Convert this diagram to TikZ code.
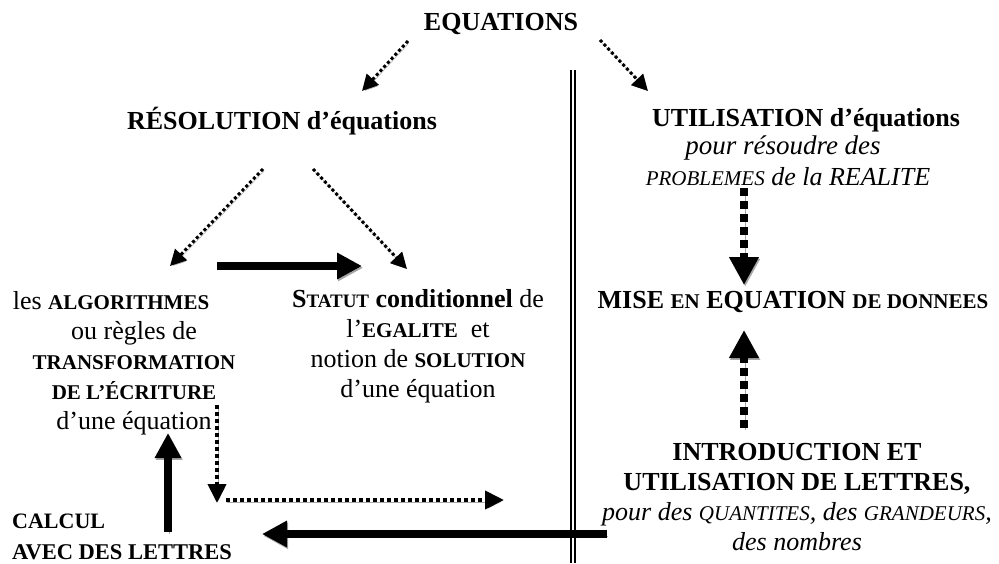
\documentclass[tikz,border=0pt]{standalone}
\usepackage{fontspec}
\setmainfont{Liberation Serif}
\usetikzlibrary{arrows.meta}
\tikzset{
  txt/.style={inner sep=0pt, align=center, font=\fontsize{26}{30}\selectfont},
  shadowed/.style={preaction={draw=black!35, transform canvas={shift={(1.2,1.8)}}}},
  dotarrow/.style={shadowed, line width=3pt, dash pattern=on 3pt off 2.5pt, -{Triangle[length=16pt,width=16pt]}},
  sqarrow/.style={shadowed, line width=4pt, dash pattern=on 4pt off 3pt, -{Triangle[length=19pt,width=18pt]}},
  thickarrow/.style={shadowed, line width=8pt, -{Triangle[length=25pt,width=25pt]}},
  dasharrow/.style={shadowed, line width=8pt, dash pattern=on 8pt off 5pt, -{Triangle[length=28pt,width=28pt]}}
}
\newcommand{\smc}[1]{{\fontsize{21}{24}\selectfont #1}}
\newcommand{\ssmc}[1]{{\fontsize{19}{22}\selectfont #1}}
\begin{document}
\begin{tikzpicture}[x=1pt,y=-1pt]
\useasboundingbox (0,0) rectangle (999,563);
% double vertical line
\draw[line width=1.2pt] (571,70) -- (571,563);
\draw[line width=1.2pt] (575,70) -- (575,563);

\node[txt, font=\fontsize{26}{30}\selectfont\bfseries] (eq) at (501,24) {EQUATIONS};
\node[txt, font=\fontsize{26}{30}\selectfont\bfseries] (res) at (282,121) {RÉSOLUTION d’équations};
\node[txt, font=\fontsize{26}{30}\selectfont\bfseries] (uti) at (806,120) {UTILISATION d’équations};
\node[txt, font=\fontsize{27}{30}\selectfont\itshape] (pour) at (783,148) {pour résoudre des};
\node[txt, font=\fontsize{26}{30}\selectfont\itshape] (prob) at (788,177) {\smc{PROBLEMES} de la REALITE};

\node[txt] (algo) at (134,363) {les \textbf{\smc{ALGORITHMES}}\hspace*{46pt}\\ ou règles de\\ \textbf{\smc{TRANSFORMATION}}\\ \textbf{\smc{DE L’ÉCRITURE}}\\ d’une équation};
\node[txt] (stat) at (418,346) {\textbf{S\ssmc{TATUT} conditionnel} de\\ l’\textbf{\smc{EGALITE}}\ \ et\\ notion de \textbf{\smc{SOLUTION}}\\ d’une équation};
\node[txt] (mise) at (793,302) {\textbf{MISE \smc{EN} EQUATION \smc{DE DONNEES}}};
\node[txt] (intro) at (797,497) {\textbf{INTRODUCTION ET}\\ \textbf{UTILISATION DE LETTRES,}\\ \textit{pour des \smc{QUANTITES}, des \smc{GRANDEURS},}\\ \textit{des nombres}};
\node[txt, anchor=west, font=\fontsize{22}{26}\selectfont\bfseries] (calc) at (12,521) {CALCUL};
\node[txt, anchor=west, font=\fontsize{22.5}{26}\selectfont\bfseries] (avec) at (12,552) {AVEC DES LETTRES};

% coordinates
\coordinate (eqL) at (408,41);  \coordinate (resT) at (362,91);
\coordinate (eqR) at (600,40);  \coordinate (utiT) at (648,91);
\coordinate (resL) at (263,169); \coordinate (algoT) at (170,266);
\coordinate (resR) at (313,169); \coordinate (statT) at (407,269);
\coordinate (hA) at (217,266);   \coordinate (hB) at (362,266);
\coordinate (probB) at (744,188); \coordinate (miseT) at (744,285);
\coordinate (introT) at (744,428); \coordinate (miseB) at (744,330);
\coordinate (vA) at (217,405);   \coordinate (vB) at (217,503);
\coordinate (hC) at (226,500);   \coordinate (hD) at (504,500);
\coordinate (calcT) at (168,532); \coordinate (algoB) at (168,433);
\coordinate (introL) at (607,534); \coordinate (calcR) at (262,534);

\draw[dotarrow] (eqL) -- (resT);
\draw[dotarrow] (eqR) -- (utiT);
\draw[dotarrow] (resL) -- (algoT);
\draw[dotarrow] (resR) -- (statT);
\draw[thickarrow] (hA) -- (hB);
\draw[dasharrow] (probB) -- (miseT);
\draw[dasharrow] (introT) -- (miseB);
\draw[sqarrow] (vA) -- (vB);
\draw[sqarrow] (hC) -- (hD);
\draw[thickarrow] (calcT) -- (algoB);
\draw[thickarrow] (introL) -- (calcR);
\end{tikzpicture}
\end{document}
